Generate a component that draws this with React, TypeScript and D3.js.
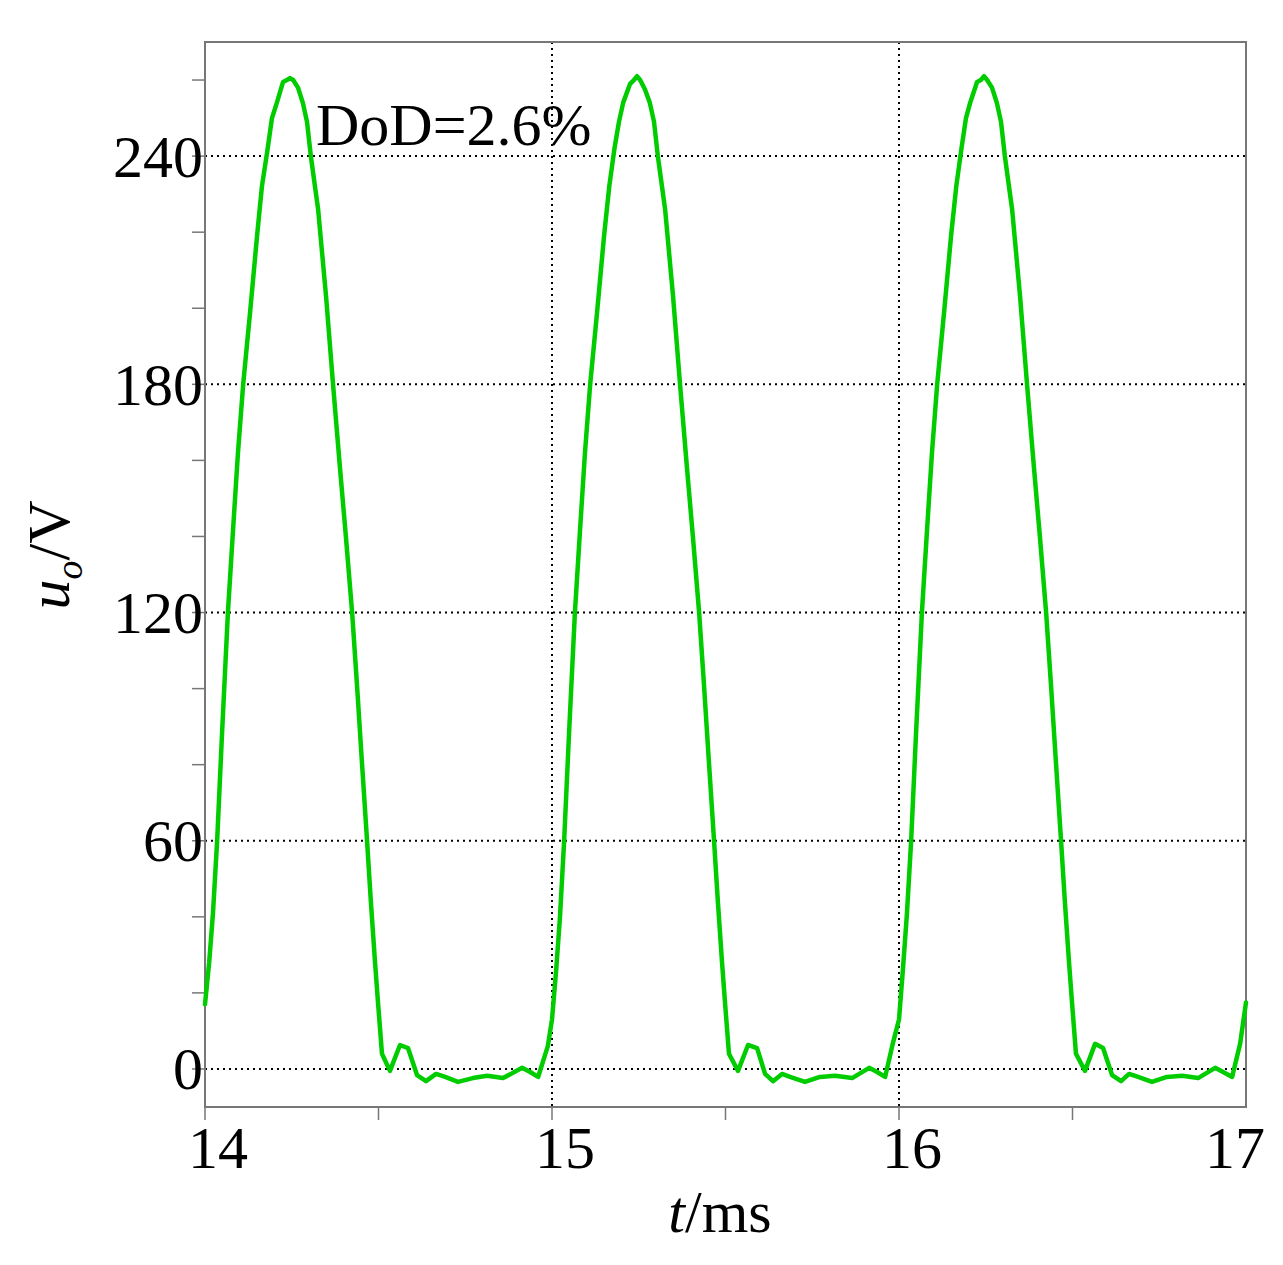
import * as d3 from 'd3'
import React from 'react'

// Waveform, [t in ms, u_o in V]
const pulse1: [number, number][] = [
  [14.000, 17], [14.012, 28], [14.023, 41], [14.035, 60], [14.049, 88], [14.066, 120],
  [14.081, 142], [14.095, 162], [14.110, 180], [14.130, 199], [14.150, 219], [14.164, 232],
  [14.179, 241], [14.193, 250], [14.207, 254], [14.225, 259.5], [14.236, 260], [14.245, 260.5],
  [14.254, 260], [14.268, 258], [14.282, 254], [14.294, 249], [14.305, 240], [14.326, 226],
  [14.349, 203], [14.369, 180], [14.389, 158], [14.406, 140], [14.424, 120], [14.438, 101],
  [14.452, 81], [14.467, 60], [14.478, 44], [14.490, 28], [14.499, 17], [14.510, 4],
  [14.533, -0.5], [14.562, 6.3], [14.585, 5.5], [14.611, -1.6], [14.637, -3.2], [14.666, -1.3],
  [14.692, -2.1], [14.729, -3.4], [14.772, -2.4], [14.813, -1.8], [14.859, -2.4], [14.914, 0.3],
  [14.937, -0.8], [14.960, -2.1], [14.988, 6],
]

const pulse2: [number, number][] = [
  [15.000, 13], [15.012, 26], [15.023, 40], [15.035, 60], [15.049, 88], [15.066, 120],
  [15.081, 142], [15.095, 162], [15.110, 180], [15.130, 199], [15.150, 219], [15.165, 232],
  [15.180, 242], [15.193, 249], [15.205, 254], [15.225, 259], [15.236, 260], [15.245, 261],
  [15.254, 260], [15.268, 257.5], [15.282, 254], [15.294, 249], [15.305, 240], [15.326, 226],
  [15.349, 203], [15.369, 180], [15.389, 158], [15.406, 140], [15.424, 120], [15.438, 101],
  [15.452, 81], [15.467, 60], [15.478, 44], [15.490, 28], [15.499, 17], [15.510, 4],
  [15.536, -0.5], [15.565, 6.3], [15.591, 5.5], [15.614, -1.3], [15.637, -3.2], [15.663, -1.3],
  [15.686, -2.1], [15.729, -3.4], [15.772, -2.1], [15.816, -1.8], [15.865, -2.4], [15.914, 0.3],
  [15.937, -0.8], [15.960, -2.1], [15.983, 7],
]

const pulse3: [number, number][] = [
  [16.000, 13], [16.012, 27], [16.023, 41], [16.035, 60], [16.049, 88], [16.066, 120],
  [16.081, 142], [16.095, 162], [16.110, 180], [16.130, 199], [16.150, 219], [16.165, 232],
  [16.180, 242], [16.193, 250], [16.205, 254], [16.225, 259.5], [16.236, 260], [16.245, 261],
  [16.254, 260], [16.268, 258], [16.282, 254], [16.294, 249], [16.305, 240], [16.326, 226],
  [16.349, 203], [16.369, 180], [16.389, 158], [16.406, 140], [16.424, 120], [16.438, 101],
  [16.452, 81], [16.467, 60], [16.478, 44], [16.490, 28], [16.499, 17], [16.510, 4],
  [16.536, -0.5], [16.565, 6.6], [16.588, 5.5], [16.614, -1.6], [16.640, -3.2], [16.663, -1.3],
  [16.689, -2.1], [16.729, -3.4], [16.772, -2.1], [16.816, -1.8], [16.862, -2.4], [16.911, 0.3],
  [16.934, -0.8], [16.960, -2.1], [16.983, 6.6], [17.000, 17.5],
]

const xLabels = [14, 15, 16, 17]
const xMinor = [14, 14.5, 15, 15.5, 16, 16.5]
const yLabels = [0, 60, 120, 180, 240]
const yMinor = d3.range(0, 261, 20)

const W = 1283
const H = 1265
const left = 205
const right = 1246
const top = 42
const bottom = 1107
const font = '"Liberation Serif", "Times New Roman", serif'
const axisColor = '#777'

const App = () => {
  const x = d3.scaleLinear().domain([14, 17]).range([left, right])
  const y = d3.scaleLinear().domain([-10, 270]).range([bottom, top])

  const line = d3.line<[number, number]>()
    .x((d) => x(d[0]))
    .y((d) => y(d[1]))
    .curve(d3.curveLinear)

  const wave = [...pulse1, ...pulse2, ...pulse3]

  return (
    <svg width={W} height={H} style={{ position: 'absolute', left: 0, top: 0, background: '#fff' }}>
      <rect x={0} y={0} width={W} height={H} fill='#fff' />

      {/* dotted grid */}
      {yLabels.map((v) => (
        <line key={'gy' + v} x1={left} x2={right} y1={y(v)} y2={y(v)}
          stroke='#000' strokeWidth={2} strokeDasharray='2 4' />
      ))}
      {xLabels.filter((v) => v > 14 && v < 17).map((v) => (
        <line key={'gx' + v} x1={x(v)} x2={x(v)} y1={top} y2={bottom}
          stroke='#000' strokeWidth={2} strokeDasharray='2 4' />
      ))}

      {/* frame */}
      <rect x={left} y={top} width={right - left} height={bottom - top}
        fill='none' stroke={axisColor} strokeWidth={2} />

      {/* ticks */}
      {yMinor.map((v) => (
        <line key={'ty' + v} x1={left - 13} x2={left} y1={y(v)} y2={y(v)}
          stroke={axisColor} strokeWidth={1.5} />
      ))}
      {xMinor.map((v) => (
        <line key={'tx' + v} x1={x(v)} x2={x(v)} y1={bottom} y2={bottom + 13}
          stroke={axisColor} strokeWidth={1.5} />
      ))}

      {/* waveform */}
      <path d={line(wave) ?? ''} fill='none' stroke='#00cc00' strokeWidth={4.5}
        strokeLinejoin='round' strokeLinecap='round' />

      {/* tick labels */}
      {yLabels.map((v) => (
        <text key={'ly' + v} x={left - 2} y={y(v)} dy='0.34em' textAnchor='end'
          fontFamily={font} fontSize={60} fill='#000'>{v}</text>
      ))}
      {xLabels.map((v) => (
        <text key={'lx' + v} x={x(v)} dx={v === 17 ? -11 : 13} y={1168} textAnchor='middle'
          fontFamily={font} fontSize={60} fill='#000'>{v}</text>
      ))}

      {/* axis titles */}
      <text x={720} y={1232} textAnchor='middle' fontFamily={font} fontSize={60} fill='#000'>
        <tspan fontStyle='italic'>t</tspan>/ms
      </text>
      <text transform='translate(69, 555) rotate(-90)' textAnchor='middle'
        fontFamily={font} fontSize={60} fill='#000'>
        <tspan fontStyle='italic'>u</tspan>
        <tspan fontStyle='italic' fontSize={38} dy={13}>o</tspan>
        <tspan dy={-13}>/V</tspan>
      </text>

      {/* annotation */}
      <text x={316} y={145} fontFamily={font} fontSize={60} fill='#000'>DoD=2.6%</text>
    </svg>
  )
}

export default App
